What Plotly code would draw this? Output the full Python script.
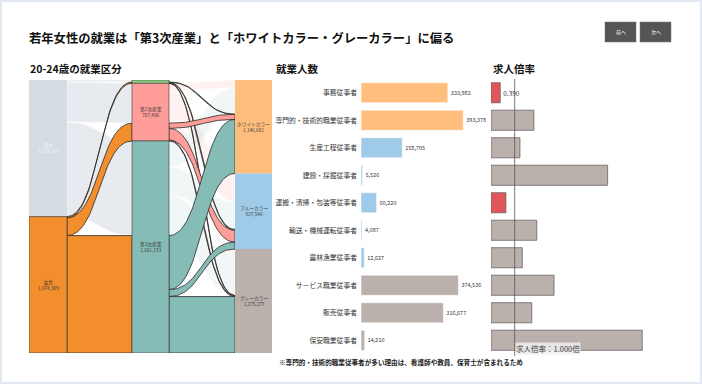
import numpy as np
import plotly.graph_objects as go

W, H = 702, 384
FONT = "Noto Sans CJK JP, sans-serif"

# ---------------- data ----------------
title_text = "若年女性の就業は「第3次産業」と「ホワイトカラー・グレーカラー」に偏る"

genders = ["男性", "女性"]
gender_totals = [1675196, 1674309]
industries = ["第1次産業", "第2次産業", "第3次産業"]
industry_totals = [40866, 707486, 2601153]
collars = ["ホワイトカラー", "ブルーカラー", "グレーカラー"]
collar_totals = [1146682, 927546, 1275277]

# gender -> industry
male_to_industry = [25000, 489486, 1160710]
female_to_industry = [15866, 218000, 1440443]

# industry -> collar, per gender  [industry][collar]
male_industry_collar = [[2000, 15000, 8000],
                        [95000, 330000, 64486],
                        [322322, 341381, 497007]]
female_industry_collar = [[2500, 11000, 2366],
                          [62000, 145000, 11000],
                          [662860, 85165, 692418]]

occupations = ["事務従事者", "専門的・技術的職業従事者", "生産工程従事者", "建設・採掘従事者",
               "運搬・清掃・包装等従事者", "輸送・機械運転従事者", "農林漁業従事者",
               "サービス職業従事者", "販売従事者", "保安職業従事者"]
occupation_workers = [333982, 393378, 158705, 5526, 60220, 4087, 12627, 374536, 316677, 14210]
occupation_collar = ["ホワイトカラー", "ホワイトカラー", "ブルーカラー", "ブルーカラー", "ブルーカラー",
                     "ブルーカラー", "ブルーカラー", "グレーカラー", "グレーカラー", "グレーカラー"]
job_ratio = [0.39, 1.81, 1.22, 4.92, 0.63, 1.93, 1.32, 2.66, 1.72, 6.38]
ratio_reference = 1.0

# ---------------- styles ----------------
gender_colors = ["#d5dce4", "#f28e2b"]
industry_colors = ["#8cd17d", "#ff9d9a", "#86bcb6"]
industry_faded = ["rgba(140,209,125,0.12)", "rgba(255,157,154,0.14)", "rgba(134,188,182,0.12)"]
collar_colors = {"ホワイトカラー": "#ffbe7d", "ブルーカラー": "#a0cbe8", "グレーカラー": "#bab0ac"}

def px_x(p):
    return p / W

def px_y(p):
    return 1 - p / H

fig = go.Figure()

# sankey geometry (layout constants, pixels)
col_x = [(29, 67), (132, 169), (235, 272)]
total = sum(gender_totals)


def starts(vals):
    return list(np.concatenate([[0], np.cumsum(vals)[:-1]]))


def band(x0, x1, a0, b0, a1, b1, n=50):
    t = np.linspace(0, 1, n)
    xm = (x0 + x1) / 2
    bx = (1 - t) ** 3 * x0 + 3 * (1 - t) ** 2 * t * xm + 3 * (1 - t) * t ** 2 * xm + t ** 3 * x1
    s = 3 * t ** 2 - 2 * t ** 3
    top = a0 + (a1 - a0) * s
    bot = b0 + (b1 - b0) * s
    xs = np.concatenate([bx, bx[::-1], [bx[0]]])
    ys = np.concatenate([top, bot[::-1], [top[0]]])
    return xs, ys


faded_links = []
bright_links = []

# layer 1 : gender -> industry
g_start = starts(gender_totals)
i_start = starts(industry_totals)
src_off = list(g_start)
tgt_off = list(i_start)
for g, flows in enumerate([male_to_industry, female_to_industry]):
    for i, v in enumerate(flows):
        xs, ys = band(col_x[0][1], col_x[1][0], src_off[g], src_off[g] + v,
                      tgt_off[i], tgt_off[i] + v)
        src_off[g] += v
        tgt_off[i] += v
        if g == 0:
            faded_links.append((xs, ys, "#e7ebef", "rgba(255,255,255,0.9)"))
        else:
            bright_links.append((xs, ys, gender_colors[1], "#2a2a2a"))

# layer 2 : industry -> collar, per gender
c_start = starts(collar_totals)
src_off = list(i_start)
tgt_off = list(c_start)
for g, mat in enumerate([male_industry_collar, female_industry_collar]):
    for i in range(3):
        for c in range(3):
            v = mat[i][c]
            xs, ys = band(col_x[1][1], col_x[2][0], src_off[i], src_off[i] + v,
                          tgt_off[c], tgt_off[c] + v)
            src_off[i] += v
            tgt_off[c] += v
            if g == 0:
                faded_links.append((xs, ys, industry_faded[i], "rgba(255,255,255,0.6)"))
            else:
                bright_links.append((xs, ys, industry_colors[i], "#2a2a2a"))

for xs, ys, fc, lc in faded_links:
    fig.add_trace(go.Scatter(x=xs, y=ys, fill="toself", fillcolor=fc, mode="lines",
                             line=dict(color=lc, width=0.6), hoverinfo="skip",
                             showlegend=False, xaxis="x", yaxis="y"))
for xs, ys, fc, lc in bright_links:
    fig.add_trace(go.Scatter(x=xs, y=ys, fill="toself", fillcolor=fc, mode="lines",
                             line=dict(color=lc, width=0.8), hoverinfo="skip",
                             showlegend=False, xaxis="x", yaxis="y"))

annotations = []


def node(col, y0, v, color, outline, label, label_color):
    x0, x1 = col_x[col]
    fig.add_trace(go.Scatter(x=[x0, x1, x1, x0, x0], y=[y0, y0, y0 + v, y0 + v, y0],
                             fill="toself", fillcolor=color, mode="lines",
                             line=dict(color=outline, width=0.7 if outline else 0),
                             hoverinfo="skip", showlegend=False, xaxis="x", yaxis="y"))
    if v / total > 0.05:
        annotations.append(dict(x=(x0 + x1) / 2, y=y0 + v / 2, xref="x", yref="y",
                                xanchor="center", yanchor="middle",
                                text=f"{label}<br>{v:,}", showarrow=False,
                                font=dict(size=4.7, color=label_color, family=FONT)))


for k, (name, v) in enumerate(zip(genders, gender_totals)):
    node(0, g_start[k], v, gender_colors[k], "#444444" if k == 1 else None, name,
         "#f4f6f8" if k == 0 else "#3a3a3a")
for k, (name, v) in enumerate(zip(industries, industry_totals)):
    node(1, i_start[k], v, industry_colors[k], "#4a4a4a", name, "#3a3a3a")
for k, (name, v) in enumerate(zip(collars, collar_totals)):
    node(2, c_start[k], v, collar_colors[name], None, name, "#3a3a3a")

# ---------------- employment bars ----------------
bar_colors = [collar_colors[c] for c in occupation_collar]
fig.add_trace(go.Bar(
    x=occupation_workers, y=occupations, orientation="h", xaxis="x2", yaxis="y2",
    marker=dict(color=bar_colors, line=dict(color="rgba(255,255,255,0.7)", width=0.8)),
    width=0.73, text=[f"{v:,}" for v in occupation_workers], textposition="outside",
    textfont=dict(size=5.5, color="#333333", family=FONT), constraintext="none",
    cliponaxis=False, hoverinfo="skip", showlegend=False))

# ---------------- job ratio bars ----------------
ratio_colors = ["#e15759" if r < ratio_reference else "#bab0ac" for r in job_ratio]
ratio_text = [f"{r:.3f}" if k == 0 else "" for k, r in enumerate(job_ratio)]
fig.add_trace(go.Bar(
    x=job_ratio, y=occupations, orientation="h", xaxis="x3", yaxis="y3",
    marker=dict(color=ratio_colors, line=dict(color="#6a6262", width=0.8)),
    width=0.73, text=ratio_text, textposition="outside",
    textfont=dict(size=6.5, color="#333333", family=FONT), constraintext="none",
    cliponaxis=False, hoverinfo="skip", showlegend=False))

row_dom = [px_y(354), px_y(79)]

shapes = [
    dict(type="rect", xref="paper", yref="paper", x0=0, x1=1, y0=0, y1=1,
         line=dict(color="#e2e8ef", width=4), layer="above"),
    dict(type="line", xref="x3", yref="paper", x0=ratio_reference, x1=ratio_reference,
         y0=px_y(356), y1=px_y(79), line=dict(color="#555555", width=0.8), layer="above"),
    dict(type="rect", xref="paper", yref="paper", x0=px_x(605), x1=px_x(636),
         y0=px_y(42), y1=px_y(22), fillcolor="#555555", line=dict(color="#777777", width=0.5)),
    dict(type="rect", xref="paper", yref="paper", x0=px_x(640), x1=px_x(671),
         y0=px_y(42), y1=px_y(22), fillcolor="#555555", line=dict(color="#777777", width=0.5)),
]

annotations += [
    dict(x=px_x(27), y=px_y(38), xref="paper", yref="paper", xanchor="left", yanchor="middle",
         text=f"<b>{title_text}</b>", showarrow=False,
         font=dict(size=12.3, color="#111111", family=FONT)),
    dict(x=px_x(28), y=px_y(68), xref="paper", yref="paper", xanchor="left", yanchor="middle",
         text="<b>20-24歳の就業区分</b>", showarrow=False,
         font=dict(size=10.5, color="#111111", family=FONT)),
    dict(x=px_x(274), y=px_y(68), xref="paper", yref="paper", xanchor="left", yanchor="middle",
         text="<b>就業人数</b>", showarrow=False,
         font=dict(size=10.5, color="#111111", family=FONT)),
    dict(x=px_x(491), y=px_y(68), xref="paper", yref="paper", xanchor="left", yanchor="middle",
         text="<b>求人倍率</b>", showarrow=False,
         font=dict(size=10.5, color="#111111", family=FONT)),
    dict(x=px_x(620.5), y=px_y(32), xref="paper", yref="paper", xanchor="center",
         yanchor="middle", text="前へ", showarrow=False,
         font=dict(size=5, color="#ffffff", family=FONT)),
    dict(x=px_x(655.5), y=px_y(32), xref="paper", yref="paper", xanchor="center",
         yanchor="middle", text="次へ", showarrow=False,
         font=dict(size=5, color="#ffffff", family=FONT)),
    dict(x=ratio_reference, y=px_y(348), xref="x3", yref="paper", xanchor="left", yanchor="middle",
         text="求人倍率：1.000倍", showarrow=False, bgcolor="rgba(238,238,238,0.85)", borderpad=0,
         font=dict(size=7.5, color="#444444", family=FONT)),
    dict(x=px_x(277), y=px_y(362), xref="paper", yref="paper", xanchor="left", yanchor="middle",
         text="<b>※専門的・技術的職業従事者が多い理由は、看護師や教員、保育士が含まれるため</b>",
         showarrow=False, font=dict(size=6.6, color="#222222", family=FONT)),
]

fig.update_layout(
    width=W, height=H, margin=dict(l=0, r=0, t=0, b=0),
    paper_bgcolor="#ffffff", plot_bgcolor="rgba(0,0,0,0)",
    font=dict(family=FONT),
    xaxis=dict(domain=[px_x(29), px_x(272)], range=[29, 272], visible=False, fixedrange=True),
    yaxis=dict(domain=[px_y(353), px_y(80)], range=[total, 0], visible=False, fixedrange=True),
    xaxis2=dict(domain=[px_x(361), px_x(478)], range=[0, 450000], visible=False, anchor="y2"),
    yaxis2=dict(domain=row_dom, anchor="x2", autorange="reversed", showgrid=False,
                showline=False, ticks="", ticklabelstandoff=3,
                tickfont=dict(size=6.8, color="#333333", family=FONT)),
    xaxis3=dict(domain=[px_x(491), px_x(660)], range=[0, 7.13], visible=False, anchor="y3"),
    yaxis3=dict(domain=row_dom, anchor="x3", autorange="reversed", showgrid=False,
                showticklabels=False, showline=False, ticks=""),
    shapes=shapes, annotations=annotations, bargap=0.27,
)

fig.write_html("out.html")
